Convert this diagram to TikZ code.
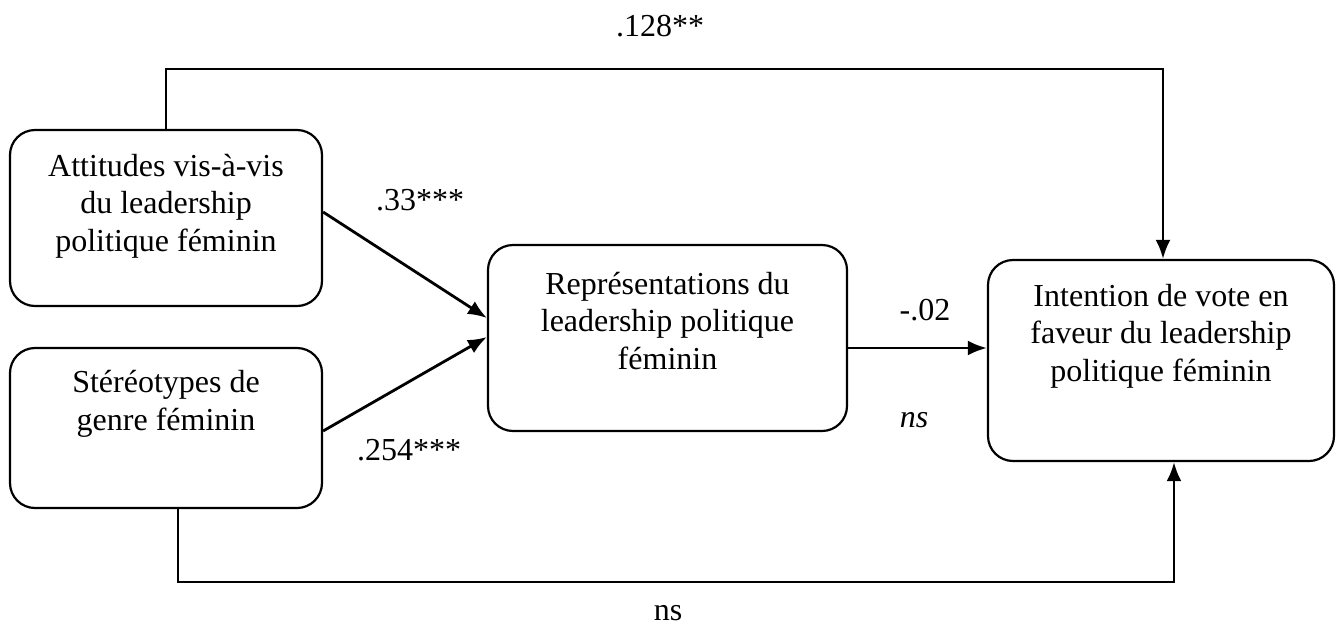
\documentclass[tikz,border=0pt]{standalone}
\usepackage{fontspec}
\setmainfont{Liberation Serif}
\usetikzlibrary{arrows.meta}

\begin{document}
\begin{tikzpicture}[
   x=1pt, y=-1pt,
   font=\fontsize{32}{37.5}\selectfont,
   box/.style={draw, line width=2.2pt, rounded corners=25pt},  % rounded variable boxes
   boxtext/.style={align=center, inner sep=0pt},              % text inside a box
   link/.style={-{Latex[length=19pt,width=15pt]}, line width=2.8pt}, % paths
   coef/.style={inner sep=0pt}                                % path coefficients
]

\useasboundingbox (0,0) rectangle (1336,630);

% --- the four variables
\node[box, minimum width=312pt, minimum height=176pt] (att) at (166,218) {};
\node[boxtext] (att-txt) at (166,206) {Attitudes vis-à-vis\\du leadership\\politique féminin};

\node[box, minimum width=312pt, minimum height=160pt] (ster) at (166,428) {};
\node[boxtext] (ster-txt) at (166,404) {Stéréotypes de\\genre féminin};

\node[box, minimum width=359pt, minimum height=186pt] (rep) at (667.5,338) {};
\node[boxtext] (rep-txt) at (667.5,321) {Représentations du\\leadership politique\\féminin};

\node[box, minimum width=346pt, minimum height=201pt] (int) at (1161,360.5) {};
\node[boxtext] (int-txt) at (1161,336) {Intention de vote en\\faveur du leadership\\politique féminin};

% --- helpers for the two long paths
\coordinate (top) at (0,69);
\coordinate (bot) at (0,582);

% --- direct effects
\draw[link] (att.north) -- (att.north |- top) -| ([xshift=2pt]int.north);
\draw[link] ([xshift=12pt]ster.south) -- ([xshift=12pt]ster.south |- bot) -| ([xshift=13pt]int.south);

% --- paths to the mediator
\draw[link] ([yshift=6pt]att.east) -- ([yshift=20pt]rep.west);
\draw[link] ([yshift=-3pt]ster.east) -- ([yshift=1pt]rep.west);

% --- mediator to outcome
\draw[link] ([yshift=-10pt]rep.east) -- ([yshift=-10pt]rep.east -| int.west);

% --- coefficients
\node[coef] (c-top) at (660,26) {.128**};
\node[coef] (c-att) at (420,200) {.33***};
\node[coef] (c-ster) at (409,450) {.254***};
\node[coef] (c-rep) at (925,310) {-.02};
\node[coef] (c-rep-ns) at (914,420) {\textit{ns}};
\node[coef] (c-bot) at (668,613) {ns};

\end{tikzpicture}
\end{document}
